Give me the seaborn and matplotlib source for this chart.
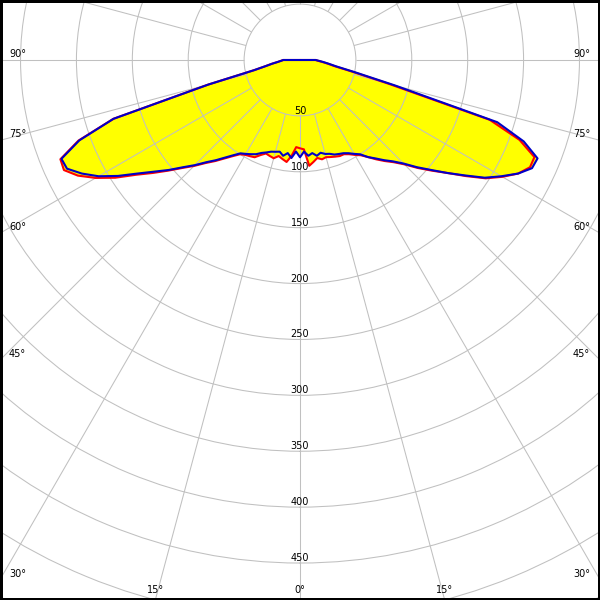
import numpy as np
import pandas as pd
import matplotlib
matplotlib.use('Agg')
import matplotlib.pyplot as plt
import matplotlib.transforms as mtrans
from matplotlib.patches import Rectangle
import seaborn as sns

# gamma angles in degrees, negative = left half of the diagram
gamma = np.arange(-90, 92.5, 2.5)

# intensity, blue plane (-90 .. 90)
blue_int = [15, 17, 20, 25, 31, 42, 85, 175, 210, 231,
            230, 220, 208, 193, 177, 164, 153, 142, 133, 124,
            117, 110, 104, 99, 97, 95, 93, 90, 88, 86,
            85, 84, 87, 84, 88, 82, 87, 82, 86, 84,
            87, 85, 87, 88, 90, 91, 92, 94, 97, 100,
            106, 111, 117, 123, 131, 142, 153, 166, 180, 196,
            208, 220, 229, 230, 213, 185, 88, 50, 33, 26,
            21, 17, 14]

# intensity, red plane (-90 .. 90)
red_int = [15, 17, 20, 25, 31, 42, 85, 175, 211, 232,
           233, 224, 211, 196, 179, 166, 154, 143, 134, 125,
           118, 111, 105, 100, 98, 97, 96, 92, 89, 90,
           91, 88, 90, 92, 86, 78, 79, 80, 95, 92,
           89, 91, 90, 91, 92, 93, 93, 95, 98, 101,
           106, 112, 118, 124, 132, 143, 154, 166, 181, 197,
           209, 220, 227, 227, 209, 178, 82, 47, 31, 25,
           20, 16, 14]

ring_labels = [50, 100, 150, 200, 250, 300, 350, 400, 450]
ring_grid = [50, 100, 150, 200, 250, 300, 350, 400, 450, 500, 550]
angle_marks = [0, 15, 30, 45, 60, 75, 90]
spoke_angles = np.arange(0, 360, 15)

sns.set_style('white')
plt.rcParams['font.family'] = ['DejaVu Sans']
plt.rcParams['text.color'] = 'black'

W = 600
RMAX = 560
RAD_PX = 626.0          # radius of the polar area in pixels
scale = RAD_PX / RMAX   # pixels per unit
cx, cy = 300, 540       # centre of diagram (pixels from bottom-left)

fig = plt.figure(figsize=(6, 6), dpi=100)
ax = fig.add_axes([(cx - RAD_PX) / W, (cy - RAD_PX) / W, 2 * RAD_PX / W, 2 * RAD_PX / W],
                  projection='polar')
ax.set_theta_zero_location('S')
ax.set_axisbelow(False)

th = np.deg2rad(gamma)
ax.fill(th, red_int, color='#ffff00', lw=0, zorder=1)
ax.fill(th, blue_int, color='#ffff00', lw=0, zorder=1)

# spokes start at the 50 ring
ax.vlines(np.deg2rad(spoke_angles), 50, RMAX, colors='#c0c0c0', lw=0.75, zorder=2)

# curves closed through the centre
th_c = np.deg2rad(np.concatenate([[-180], gamma, [180]]))
df = pd.DataFrame({'theta': np.concatenate([th_c, th_c]),
                   'r': [0] + red_int + [0] + [0] + blue_int + [0],
                   'plane': ['red'] * len(th_c) + ['blue'] * len(th_c)})
sns.lineplot(data=df[df.plane == 'red'], x='theta', y='r', sort=False, estimator=None,
             color='#ff0000', lw=1.5, ax=ax, zorder=3)
sns.lineplot(data=df[df.plane == 'blue'], x='theta', y='r', sort=False, estimator=None,
             color='#0000c8', lw=1.5, ax=ax, zorder=4)

ax.set_ylim(0, RMAX)
ax.set_xticks([])
ax.set_yticks(ring_grid)
ax.set_yticklabels([])
ax.yaxis.grid(True, color='#c0c0c0', lw=0.75)
ax.set_xlabel('')
ax.set_ylabel('')
ax.spines['polar'].set_visible(False)


def off(dx, dy):
    return mtrans.offset_copy(ax.transData, fig=fig, x=dx, y=dy, units='dots')


for v in ring_labels:
    ax.text(0, v, str(v), transform=off(0, 2), ha='center', va='baseline',
            fontsize=7, color='black', zorder=6)

for a in angle_marks:
    rad = np.deg2rad(a)
    lab = '%d°' % a
    if a >= 30:
        r = 300 / np.sin(rad) / scale
        ax.text(-rad, r, lab, transform=off(9, 3), ha='left', va='baseline',
                fontsize=7, color='black')
        ax.text(rad, r, lab, transform=off(-10, 3), ha='right', va='baseline',
                fontsize=7, color='black')
    else:
        r = 540 / np.cos(rad) / scale
        for s in ([-1, 1] if a else [1]):
            ax.text(s * rad, r, lab, transform=off(0, 7), ha='center', va='baseline',
                    fontsize=7, color='black')

fig.add_artist(Rectangle((0, 0), 1, 1, transform=fig.transFigure, fill=False,
                         ec='black', lw=3.6, zorder=10))

fig.savefig('out.png', dpi=100)
